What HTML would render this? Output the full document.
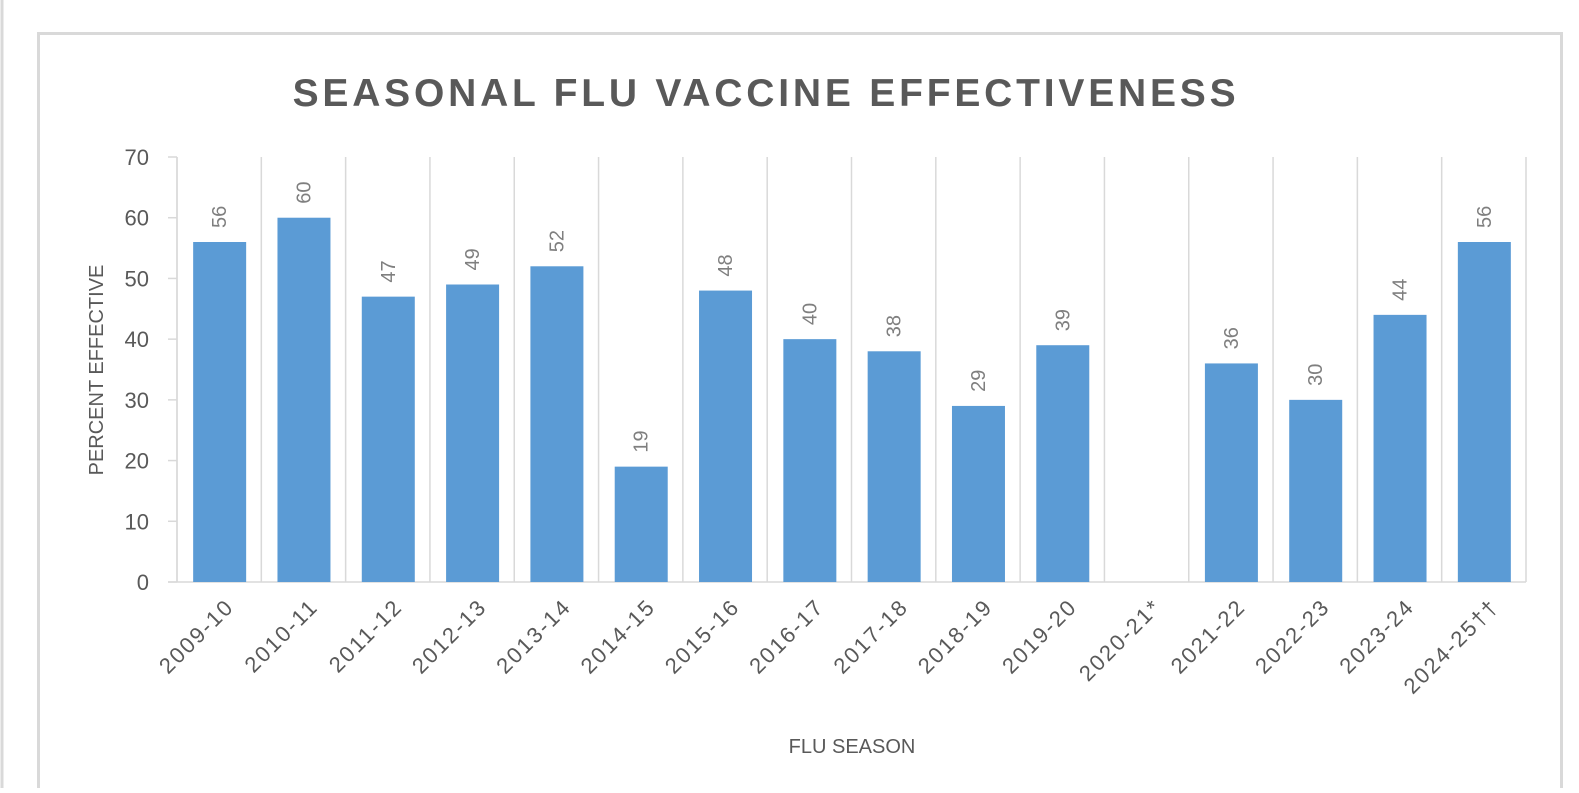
<!DOCTYPE html>
<html><head><meta charset="utf-8"><style>
body{margin:0;background:#fff;width:1579px;height:788px;overflow:hidden;font-family:"Liberation Sans",sans-serif}
</style></head><body>
<svg width="1579" height="788" xmlns="http://www.w3.org/2000/svg">
<line x1="2" y1="0" x2="2" y2="788" stroke="#d9d9d9" stroke-width="3"/>
<rect x="38.5" y="33.5" width="1523" height="780" fill="#fff" stroke="#d9d9d9" stroke-width="3"/>
<text x="766" y="106" text-anchor="middle" font-size="39" font-weight="bold" letter-spacing="3.8" fill="#595959">SEASONAL FLU VACCINE EFFECTIVENESS</text>
<text transform="translate(103,370) rotate(-90)" text-anchor="middle" font-size="20" fill="#595959">PERCENT EFFECTIVE</text>
<text x="852" y="753" text-anchor="middle" font-size="20" fill="#595959">FLU SEASON</text>
<g id="plot"></g>
</svg>
<script>
const categories=["2009-10","2010-11","2011-12","2012-13","2013-14","2014-15","2015-16","2016-17","2017-18","2018-19","2019-20","2020-21*","2021-22","2022-23","2023-24","2024-25††"];
const values=[56,60,47,49,52,19,48,40,38,29,39,null,36,30,44,56];
const yTicks=[0,10,20,30,40,50,60,70];
const NS="http://www.w3.org/2000/svg";
const L=177,R=1526,T=157,B=582,ymax=70;
const bw=(R-L)/categories.length;
const y=v=>B-(v/ymax)*(B-T);
const xc=i=>L+bw*(i+0.5);
const g=document.getElementById('plot');
function mk(tag,attrs,text){const e=document.createElementNS(NS,tag);for(const k in attrs)e.setAttribute(k,attrs[k]);if(text!=null)e.textContent=text;g.appendChild(e);return e;}
for(let i=0;i<=categories.length;i++){
 const e=mk('line',{x1:L+bw*i,y1:T,x2:L+bw*i,y2:B,stroke:'#d9d9d9','stroke-width':1.5});
 
 
}
const ya=mk('line',{x1:L,y1:T,x2:L,y2:B,stroke:'#d9d9d9','stroke-width':1.5});


yTicks.forEach(t=>{
 const tk=mk('line',{x1:L-9,y1:y(t),x2:L,y2:y(t),stroke:'#d9d9d9','stroke-width':1.5});
 
 
 const tl=mk('text',{x:L-28,y:y(t)+8,'text-anchor':'end','font-size':22,fill:'#595959'},t);
 
 
});
const xa=mk('line',{x1:L-9,y1:B,x2:R,y2:B,stroke:'#d9d9d9','stroke-width':1.5});


categories.forEach((c,i)=>{
 const v=values[i];
 if(v!=null){
  const b=mk('rect',{x:xc(i)-26,y:y(v),width:53,height:B-y(v),fill:'#5b9bd5'});
  
  
  const vl=mk('text',{transform:`translate(${xc(i)+7},${y(v)-14}) rotate(-90)`,'font-size':20,fill:'#7f7f7f'},v);
  
  
 }
 const xl=mk('text',{transform:`translate(${xc(i)+16},${B+26}) rotate(-45)`,'text-anchor':'end','font-size':22,'letter-spacing':2,fill:'#595959'},c);
 
 
});
</script>
</body></html>
